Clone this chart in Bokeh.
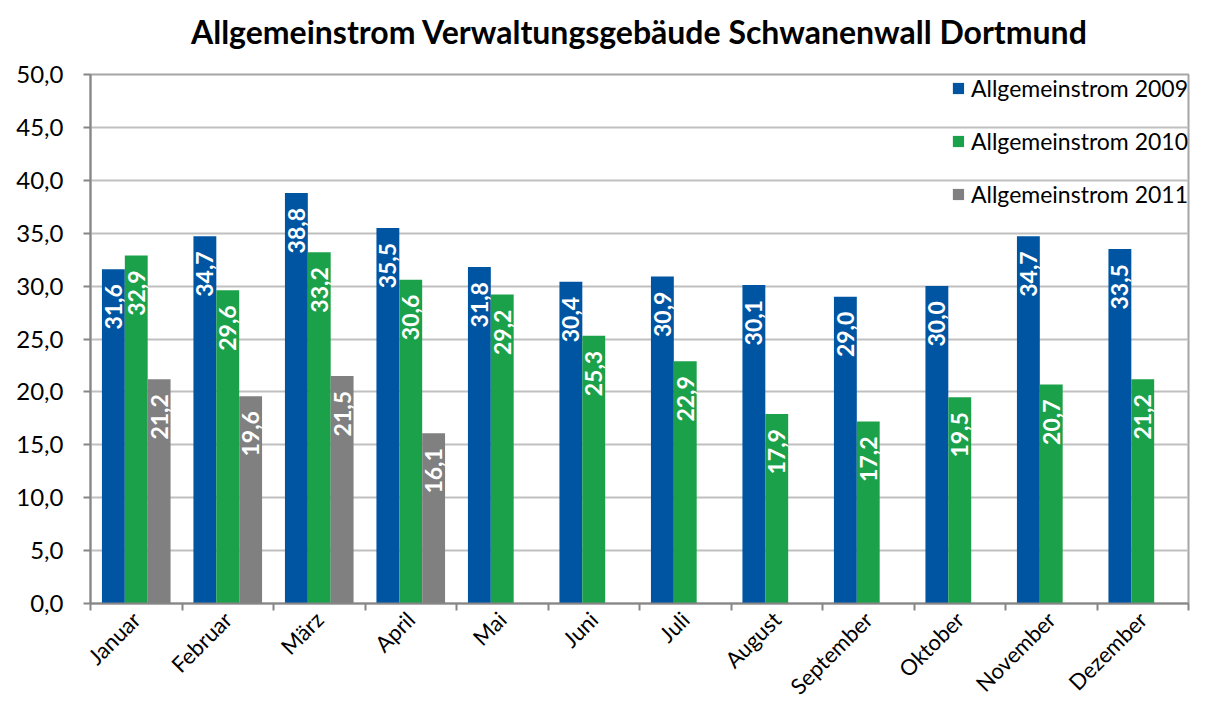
import math
from bokeh.plotting import figure
from bokeh.models import ColumnDataSource, FixedTicker, Legend, LegendItem, Title
from bokeh.core.properties import value
from bokeh.embed import file_html
from bokeh.resources import INLINE

months = ["Januar", "Februar", "März", "April", "Mai", "Juni", "Juli",
          "August", "September", "Oktober", "November", "Dezember"]
v2009 = [31.6, 34.7, 38.8, 35.5, 31.8, 30.4, 30.9, 30.1, 29.0, 30.0, 34.7, 33.5]
v2010 = [32.9, 29.6, 33.2, 30.6, 29.2, 25.3, 22.9, 17.9, 17.2, 19.5, 20.7, 21.2]
v2011 = [21.2, 19.6, 21.5, 16.1]
series_names = ["Allgemeinstrom 2009", "Allgemeinstrom 2010", "Allgemeinstrom 2011"]
colors = ["#0055A2", "#1BA14A", "#808080"]
y_ticks = [0, 5, 10, 15, 20, 25, 30, 35, 40, 45, 50]

FONT = "Lato"

def fmt(v):
    return f"{v:.1f}".replace(".", ",")

p = figure(width=1190, height=711, output_backend="svg", toolbar_location=None,
           x_range=(0, 12), y_range=(0, 50),
           min_border_left=90, min_border_top=74, min_border_bottom=107, min_border_right=2)

# spacer between the frame and the main title (pushes the title upward)
p.add_layout(Title(text=" ", text_font_size="10px", standoff=11), "above")

p.title.text = "Allgemeinstrom Verwaltungsgebäude Schwanenwall Dortmund"
p.title.align = "center"
p.title.text_font = FONT
p.title.text_font_size = "32px"
p.title.text_font_style = "bold"
p.title.text_color = "#000000"
p.title.standoff = 0

p.outline_line_color = "#a6a6a6"
p.outline_line_width = 2
p.background_fill_color = "white"

bw = 0.25
renderers = []
for k, (vals, col) in enumerate(zip([v2009, v2010, v2011], colors)):
    xs = [i + 0.5 + (k - 1) * bw for i in range(len(vals))]
    src = ColumnDataSource(dict(x=xs, top=vals, lab=[fmt(v) for v in vals]))
    r = p.vbar(x="x", top="top", width=bw, bottom=0, source=src,
               fill_color=col, line_color=None)
    renderers.append(r)
    p.text(x="x", y="top", text="lab", source=src, angle=math.pi / 2,
           text_align="right", text_baseline="middle", y_offset=15,
           text_color="white", text_font=value(FONT), text_font_style="bold",
           text_font_size="23px")

# axes
p.xaxis.ticker = FixedTicker(ticks=[i + 0.5 for i in range(12)],
                             minor_ticks=list(range(13)))
p.xaxis.major_label_overrides = {i + 0.5: m for i, m in enumerate(months)}
p.xaxis.major_label_orientation = math.pi / 4
p.xaxis.major_tick_in = 0
p.xaxis.major_tick_out = 0
p.xaxis.minor_tick_in = 0
p.xaxis.minor_tick_out = 7
p.xaxis.minor_tick_line_color = "#868686"
p.xaxis.minor_tick_line_width = 2
p.xaxis.major_label_standoff = 5

p.yaxis.ticker = FixedTicker(ticks=y_ticks)
p.yaxis.major_label_overrides = {t: fmt(t) for t in y_ticks}
p.yaxis.major_tick_in = 0
p.yaxis.major_tick_out = 7
p.yaxis.minor_tick_line_color = None
p.yaxis.major_tick_line_color = "#868686"
p.yaxis.major_tick_line_width = 2
p.yaxis.major_label_standoff = 20

for ax in (p.xaxis, p.yaxis):
    ax.axis_line_color = "#868686"
    ax.axis_line_width = 2
    ax.major_label_text_font = FONT
    ax.major_label_text_font_size = "24px"
    ax.major_label_text_color = "#000000"
p.xaxis.major_label_text_font_size = "22px"

p.xgrid.grid_line_color = None
p.ygrid.ticker = FixedTicker(ticks=y_ticks)
p.ygrid.grid_line_color = "#c0c0c0"
p.ygrid.grid_line_width = 2

legend = Legend(items=[LegendItem(label=n, renderers=[r]) for n, r in zip(series_names, renderers)],
                location="top_right")
legend.background_fill_alpha = 0
legend.border_line_color = None
legend.label_text_font = FONT
legend.label_text_font_size = "23px"
legend.label_text_color = "#000000"
legend.glyph_width = 14
legend.glyph_height = 14
legend.label_height = 22
legend.spacing = 25
legend.label_standoff = 6
legend.margin = 0
legend.padding = 3
p.add_layout(legend)

open("out.html", "w").write(file_html(p, INLINE))
